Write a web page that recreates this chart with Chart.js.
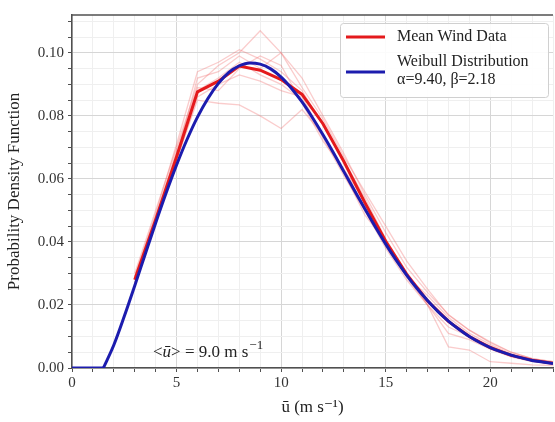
<!DOCTYPE html>
<html>
<head>
<meta charset="utf-8">
<script src="https://cdn.jsdelivr.net/npm/chart.js@4.4.1/dist/chart.umd.min.js"></script>
<style>
  html, body { margin: 0; padding: 0; background: #fff; }
  #wrap { width: 555px; height: 422px; }
</style>
</head>
<body>
<div id="wrap"><canvas id="pdfChart" width="555" height="422"></canvas></div>
<script>
// wind speed bins (m/s)
const windX = [3, 4, 5, 6, 7, 8, 9, 10, 11, 12, 13, 14, 15, 16, 17, 18, 19, 20, 21, 22, 23];

// mean of all records
const meanPdf = [0.028, 0.047, 0.067, 0.0876, 0.0910, 0.0958, 0.0945, 0.0915, 0.0868, 0.0775, 0.0655,
  0.0525, 0.0402, 0.0298, 0.0213, 0.0148, 0.0100, 0.0065, 0.0040, 0.0025, 0.0015];

// individual records (faint lines)
const recA = [0.030, 0.050, 0.070, 0.090, 0.096, 0.100, 0.107, 0.100, 0.092, 0.080, 0.068, 0.055, 0.043, 0.032, 0.024, 0.017, 0.012, 0.008, 0.005, 0.003, 0.002];
const recB = [0.027, 0.046, 0.066, 0.085, 0.084, 0.0835, 0.080, 0.076, 0.082, 0.074, 0.063, 0.051, 0.040, 0.030, 0.021, 0.0145, 0.010, 0.007, 0.004, 0.0025, 0.0015];
const recC = [0.029, 0.049, 0.071, 0.094, 0.097, 0.101, 0.098, 0.094, 0.088, 0.077, 0.066, 0.054, 0.041, 0.030, 0.020, 0.0067, 0.0057, 0.002, 0.0015, 0.001, 0.0008];
const recD = [0.028, 0.047, 0.067, 0.092, 0.094, 0.099, 0.095, 0.100, 0.089, 0.079, 0.067, 0.056, 0.045, 0.034, 0.025, 0.0168, 0.012, 0.0083, 0.005, 0.003, 0.002];
const recE = [0.028, 0.046, 0.066, 0.086, 0.090, 0.093, 0.091, 0.088, 0.086, 0.074, 0.062, 0.0486, 0.040, 0.029, 0.020, 0.011, 0.009, 0.006, 0.0035, 0.002, 0.0012];
const recF = [0.027, 0.047, 0.068, 0.088, 0.092, 0.097, 0.093, 0.090, 0.085, 0.073, 0.061, 0.050, 0.038, 0.028, 0.020, 0.013, 0.010, 0.0065, 0.004, 0.0022, 0.0014];
const recG = [0.029, 0.048, 0.069, 0.089, 0.088, 0.095, 0.099, 0.096, 0.084, 0.072, 0.063, 0.053, 0.039, 0.029, 0.023, 0.016, 0.011, 0.0075, 0.0045, 0.0028, 0.0017];
const records = [recA, recB, recC, recD, recE, recF, recG];

// weibull fit curve (zero below 1.5 m/s)
const fitX = [0, 1.5, 2, 2.5, 3, 3.5, 4, 4.5, 5, 5.5, 6, 6.5, 7, 7.5, 8, 8.5, 9, 9.5, 10, 10.5, 11, 11.5,
  12, 12.5, 13, 13.5, 14, 14.5, 15, 15.5, 16, 16.5, 17, 17.5, 18, 18.5, 19, 19.5, 20, 20.5, 21, 21.5, 22, 22.5, 23];
const fitPdf = [0, 0, 0.0073, 0.0164, 0.0261, 0.0361, 0.0460, 0.0555, 0.0644, 0.0725, 0.0796, 0.0855, 0.0903,
  0.0938, 0.0959, 0.0968, 0.0964, 0.0949, 0.0923, 0.0887, 0.0844, 0.0794, 0.0740, 0.0683, 0.0623, 0.0564,
  0.0505, 0.0448, 0.0393, 0.0342, 0.0295, 0.0252, 0.0214, 0.0179, 0.0149, 0.0123, 0.0100, 0.0081, 0.0065,
  0.0052, 0.0041, 0.0032, 0.0024, 0.0019, 0.0014];

const xMajor = [0, 5, 10, 15, 20];
const yMajor = [0, 0.02, 0.04, 0.06, 0.08, 0.10];

const serif = "'Liberation Serif', 'DejaVu Serif', serif";
const blue = '#1c1cae';
const red = '#e41a1c';

function pts(xs, ys) {
  return xs.map((x, i) => ({ x: x, y: ys[i] }));
}
function isMajorY(v) {
  return yMajor.some(m => Math.abs(m - v) < 1e-7);
}

const datasets = records.map(r => ({
  data: pts(windX, r),
  borderColor: 'rgba(240, 110, 110, 0.35)',
  borderWidth: 1.3,
  pointRadius: 0,
  fill: false,
  order: 2
}));
datasets.push({
  label: 'Mean Wind Data',
  data: pts(windX, meanPdf),
  borderColor: red,
  borderWidth: 3,
  pointRadius: 0,
  fill: false,
  order: 1
});
// flat part of the fit, drawn straight
datasets.push({
  data: pts(fitX.slice(0, 2), fitPdf.slice(0, 2)),
  borderColor: blue,
  borderWidth: 3,
  pointRadius: 0,
  fill: false,
  order: 0
});
datasets.push({
  label: 'Weibull Distribution',
  data: pts(fitX.slice(1), fitPdf.slice(1)),
  borderColor: blue,
  borderWidth: 3,
  pointRadius: 0,
  cubicInterpolationMode: 'monotone',
  fill: false,
  order: 0
});

// frame top line, legend box and annotation
const extras = {
  id: 'extras',
  afterDraw(chart) {
    const c = chart.ctx;
    const a = chart.chartArea;
    c.save();
    c.strokeStyle = '#505050';
    c.lineWidth = 1.5;
    c.beginPath();
    c.moveTo(a.left, a.top);
    c.lineTo(a.right, a.top);
    c.stroke();

    // legend
    c.fillStyle = 'rgba(255,255,255,0.9)';
    c.strokeStyle = '#d0d0d0';
    c.lineWidth = 1;
    c.beginPath();
    c.roundRect(340.5, 23.5, 208, 74, 3);
    c.fill();
    c.stroke();
    c.lineWidth = 3;
    c.strokeStyle = red;
    c.beginPath(); c.moveTo(346, 37); c.lineTo(385, 37); c.stroke();
    c.strokeStyle = blue;
    c.beginPath(); c.moveTo(346, 72); c.lineTo(385, 72); c.stroke();
    c.fillStyle = '#222';
    c.font = '16px ' + serif;
    c.textBaseline = 'middle';
    c.fillText('Mean Wind Data', 397, 37);
    c.fillText('Weibull Distribution', 397, 62);
    c.fillText('\u03b1=9.40, \u03b2=2.18', 397, 80);

    // mean speed note
    c.textBaseline = 'alphabetic';
    c.font = '17px ' + serif;
    let x = 153;
    c.fillText('<', x, 357); x += c.measureText('<').width;
    c.font = 'italic 17px ' + serif;
    c.fillText('\u016b', x, 357); x += c.measureText('\u016b').width;
    c.font = '17px ' + serif;
    c.fillText('> = 9.0 m s', x, 357); x += c.measureText('> = 9.0 m s').width;
    c.font = '13px ' + serif;
    c.fillText('\u22121', x + 1, 349);
    c.restore();
  }
};

const ctx = document.getElementById('pdfChart').getContext('2d');
const pdfChart = new Chart(ctx, {
  type: 'line',
  data: { datasets: datasets },
  options: {
    responsive: false,
    animation: false,
    layout: { padding: { top: 15, right: 0, left: 0, bottom: 0 } },
    plugins: {
      legend: { display: false },
      tooltip: { enabled: false }
    },
    scales: {
      x: {
        type: 'linear',
        min: 0,
        max: 23,
        afterFit: s => { s.height = 54; },
        border: { color: '#505050', width: 1.5 },
        grid: {
          color: c => (c.tick && c.tick.value % 5 === 0) ? '#d6d6d6' : '#efefef',
          tickColor: '#505050',
          tickLength: 4
        },
        ticks: {
          stepSize: 1,
          color: '#333',
          font: { family: serif, size: 15 },
          padding: 2,
          maxRotation: 0,
          autoSkip: false,
          callback: v => xMajor.includes(v) ? String(v) : ''
        },
        title: {
          display: true,
          text: '\u016b (m s\u207b\u00b9)',
          color: '#222',
          font: { family: serif, size: 17 },
          padding: { top: 2 }
        }
      },
      y: {
        min: 0,
        max: 0.112,
        afterFit: s => { s.width = 72; },
        border: { color: '#505050', width: 1.5 },
        grid: {
          color: c => (c.tick && isMajorY(c.tick.value)) ? '#d6d6d6' : '#efefef',
          tickColor: '#505050',
          tickLength: 4
        },
        ticks: {
          stepSize: 0.005,
          includeBounds: false,
          color: '#333',
          font: { family: serif, size: 15 },
          padding: 4,
          autoSkip: false,
          callback: v => isMajorY(v) ? v.toFixed(2) : ''
        },
        title: {
          display: true,
          text: 'Probability Density Function',
          color: '#222',
          font: { family: serif, size: 17 },
          padding: { bottom: 4 }
        }
      }
    }
  },
  plugins: [extras]
});
</script>
</body>
</html>
